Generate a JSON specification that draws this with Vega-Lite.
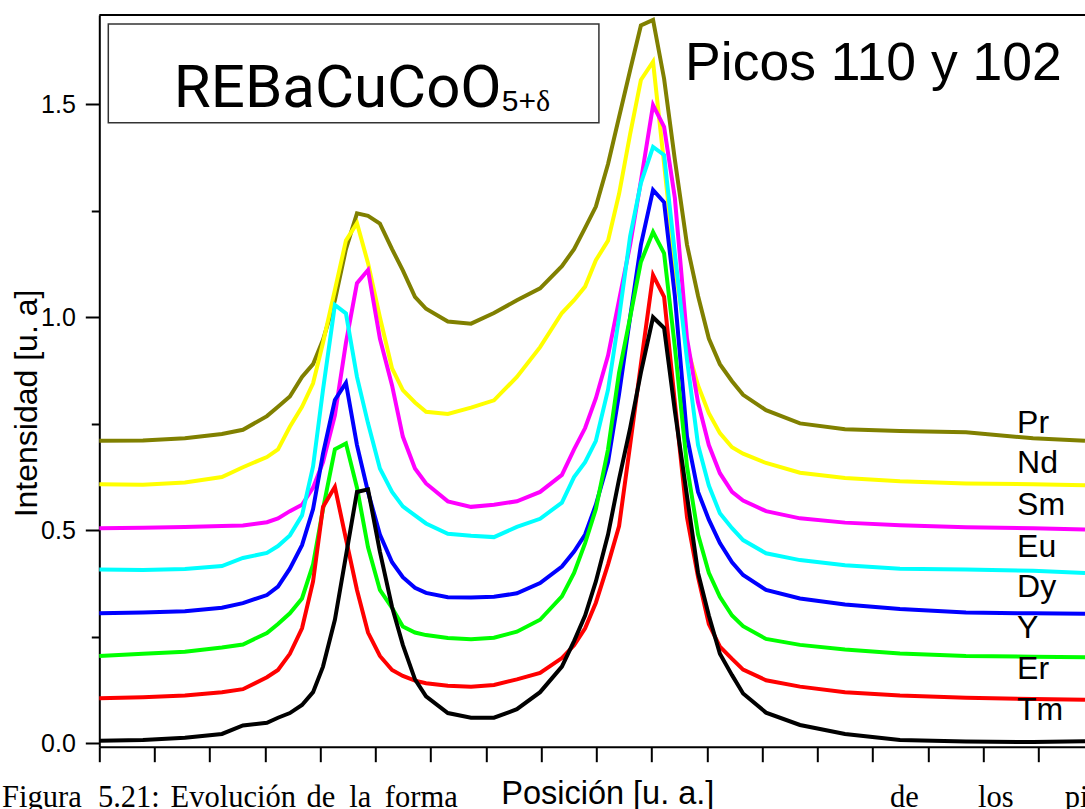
{
"$schema": "https://vega.github.io/schema/vega-lite/v6.json",
"width": 985.7,
"height": 731.7,
"autosize": {"type": "none"},
"padding": {"left": 99.3, "top": 15, "right": 0, "bottom": 62.3},
"background": "white",
"config": {
  "view": {"stroke": null},
  "axis": {"labelFont": "Liberation Sans", "titleFont": "Liberation Sans", "titleFontWeight": "normal", "labelColor": "black", "titleColor": "black", "domainColor": "black", "tickColor": "black", "grid": false},
  "text": {"font": "Liberation Sans", "color": "black"}
},
"datasets": {
  "curves": [
{"s":"Pr","x":0,"y":0.71},{"s":"Pr","x":1.58,"y":0.711},{"s":"Pr","x":3.10,"y":0.716},{"s":"Pr","x":4.44,"y":0.726},{"s":"Pr","x":5.20,"y":0.736},{"s":"Pr","x":6.07,"y":0.768},{"s":"Pr","x":6.47,"y":0.79},{"s":"Pr","x":6.90,"y":0.814},{"s":"Pr","x":7.34,"y":0.86},{"s":"Pr","x":7.74,"y":0.89},{"s":"Pr","x":8.10,"y":0.947},{"s":"Pr","x":8.53,"y":1.04},{"s":"Pr","x":8.93,"y":1.16},{"s":"Pr","x":9.33,"y":1.244},{"s":"Pr","x":9.73,"y":1.238},{"s":"Pr","x":10.16,"y":1.22},{"s":"Pr","x":10.60,"y":1.16},{"s":"Pr","x":10.99,"y":1.11},{"s":"Pr","x":11.43,"y":1.048},{"s":"Pr","x":11.83,"y":1.02},{"s":"Pr","x":12.62,"y":0.99},{"s":"Pr","x":13.46,"y":0.985},{"s":"Pr","x":14.29,"y":1.01},{"s":"Pr","x":15.12,"y":1.04},{"s":"Pr","x":15.96,"y":1.068},{"s":"Pr","x":16.75,"y":1.12},{"s":"Pr","x":17.19,"y":1.16},{"s":"Pr","x":17.59,"y":1.21},{"s":"Pr","x":17.98,"y":1.26},{"s":"Pr","x":18.42,"y":1.36},{"s":"Pr","x":18.82,"y":1.47},{"s":"Pr","x":19.22,"y":1.58},{"s":"Pr","x":19.61,"y":1.685},{"s":"Pr","x":20.05,"y":1.698},{"s":"Pr","x":20.45,"y":1.56},{"s":"Pr","x":20.84,"y":1.37},{"s":"Pr","x":21.28,"y":1.17},{"s":"Pr","x":21.68,"y":1.05},{"s":"Pr","x":22.07,"y":0.95},{"s":"Pr","x":22.47,"y":0.89},{"s":"Pr","x":22.91,"y":0.85},{"s":"Pr","x":23.31,"y":0.818},{"s":"Pr","x":24.14,"y":0.782},{"s":"Pr","x":25.37,"y":0.751},{"s":"Pr","x":27.00,"y":0.737},{"s":"Pr","x":28.99,"y":0.733},{"s":"Pr","x":31.38,"y":0.73},{"s":"Pr","x":33.81,"y":0.716},{"s":"Pr","x":35.69,"y":0.71},
{"s":"Nd","x":0,"y":0.608},{"s":"Nd","x":1.58,"y":0.607},{"s":"Nd","x":3.10,"y":0.612},{"s":"Nd","x":4.44,"y":0.625},{"s":"Nd","x":5.20,"y":0.648},{"s":"Nd","x":6.07,"y":0.672},{"s":"Nd","x":6.47,"y":0.69},{"s":"Nd","x":6.90,"y":0.743},{"s":"Nd","x":7.34,"y":0.79},{"s":"Nd","x":7.74,"y":0.845},{"s":"Nd","x":8.10,"y":0.94},{"s":"Nd","x":8.53,"y":1.064},{"s":"Nd","x":8.93,"y":1.18},{"s":"Nd","x":9.33,"y":1.221},{"s":"Nd","x":9.73,"y":1.127},{"s":"Nd","x":10.16,"y":1.0},{"s":"Nd","x":10.60,"y":0.88},{"s":"Nd","x":10.99,"y":0.829},{"s":"Nd","x":11.43,"y":0.80},{"s":"Nd","x":11.83,"y":0.778},{"s":"Nd","x":12.62,"y":0.773},{"s":"Nd","x":13.46,"y":0.788},{"s":"Nd","x":14.29,"y":0.805},{"s":"Nd","x":15.12,"y":0.86},{"s":"Nd","x":15.96,"y":0.93},{"s":"Nd","x":16.75,"y":1.01},{"s":"Nd","x":17.19,"y":1.04},{"s":"Nd","x":17.59,"y":1.072},{"s":"Nd","x":17.98,"y":1.134},{"s":"Nd","x":18.42,"y":1.18},{"s":"Nd","x":18.82,"y":1.29},{"s":"Nd","x":19.22,"y":1.43},{"s":"Nd","x":19.61,"y":1.557},{"s":"Nd","x":20.05,"y":1.60},{"s":"Nd","x":20.45,"y":1.36},{"s":"Nd","x":20.84,"y":1.12},{"s":"Nd","x":21.28,"y":0.93},{"s":"Nd","x":21.68,"y":0.84},{"s":"Nd","x":22.07,"y":0.775},{"s":"Nd","x":22.47,"y":0.728},{"s":"Nd","x":22.91,"y":0.695},{"s":"Nd","x":23.31,"y":0.68},{"s":"Nd","x":24.14,"y":0.658},{"s":"Nd","x":25.37,"y":0.635},{"s":"Nd","x":27.00,"y":0.623},{"s":"Nd","x":28.99,"y":0.615},{"s":"Nd","x":31.38,"y":0.61},{"s":"Nd","x":33.81,"y":0.608},{"s":"Nd","x":35.69,"y":0.606},
{"s":"Sm","x":0,"y":0.505},{"s":"Sm","x":1.58,"y":0.506},{"s":"Sm","x":3.10,"y":0.508},{"s":"Sm","x":4.44,"y":0.51},{"s":"Sm","x":5.20,"y":0.511},{"s":"Sm","x":6.07,"y":0.519},{"s":"Sm","x":6.47,"y":0.528},{"s":"Sm","x":6.90,"y":0.545},{"s":"Sm","x":7.34,"y":0.56},{"s":"Sm","x":7.74,"y":0.60},{"s":"Sm","x":8.10,"y":0.66},{"s":"Sm","x":8.53,"y":0.77},{"s":"Sm","x":8.93,"y":0.94},{"s":"Sm","x":9.33,"y":1.08},{"s":"Sm","x":9.73,"y":1.111},{"s":"Sm","x":10.16,"y":0.95},{"s":"Sm","x":10.60,"y":0.84},{"s":"Sm","x":10.99,"y":0.72},{"s":"Sm","x":11.43,"y":0.645},{"s":"Sm","x":11.83,"y":0.61},{"s":"Sm","x":12.62,"y":0.568},{"s":"Sm","x":13.46,"y":0.555},{"s":"Sm","x":14.29,"y":0.56},{"s":"Sm","x":15.12,"y":0.568},{"s":"Sm","x":15.96,"y":0.59},{"s":"Sm","x":16.75,"y":0.63},{"s":"Sm","x":17.19,"y":0.69},{"s":"Sm","x":17.59,"y":0.74},{"s":"Sm","x":17.98,"y":0.81},{"s":"Sm","x":18.42,"y":0.91},{"s":"Sm","x":18.82,"y":1.04},{"s":"Sm","x":19.22,"y":1.17},{"s":"Sm","x":19.61,"y":1.32},{"s":"Sm","x":20.05,"y":1.498},{"s":"Sm","x":20.45,"y":1.447},{"s":"Sm","x":20.84,"y":1.28},{"s":"Sm","x":21.28,"y":0.95},{"s":"Sm","x":21.68,"y":0.80},{"s":"Sm","x":22.07,"y":0.70},{"s":"Sm","x":22.47,"y":0.634},{"s":"Sm","x":22.91,"y":0.59},{"s":"Sm","x":23.31,"y":0.57},{"s":"Sm","x":24.14,"y":0.545},{"s":"Sm","x":25.37,"y":0.528},{"s":"Sm","x":27.00,"y":0.518},{"s":"Sm","x":28.99,"y":0.512},{"s":"Sm","x":31.38,"y":0.507},{"s":"Sm","x":33.81,"y":0.505},{"s":"Sm","x":35.69,"y":0.502},
{"s":"Eu","x":0,"y":0.408},{"s":"Eu","x":1.58,"y":0.407},{"s":"Eu","x":3.10,"y":0.409},{"s":"Eu","x":4.44,"y":0.416},{"s":"Eu","x":5.20,"y":0.435},{"s":"Eu","x":6.07,"y":0.447},{"s":"Eu","x":6.47,"y":0.463},{"s":"Eu","x":6.90,"y":0.488},{"s":"Eu","x":7.34,"y":0.535},{"s":"Eu","x":7.74,"y":0.65},{"s":"Eu","x":8.10,"y":0.83},{"s":"Eu","x":8.53,"y":1.029},{"s":"Eu","x":8.93,"y":1.009},{"s":"Eu","x":9.33,"y":0.86},{"s":"Eu","x":9.73,"y":0.751},{"s":"Eu","x":10.16,"y":0.645},{"s":"Eu","x":10.60,"y":0.59},{"s":"Eu","x":10.99,"y":0.556},{"s":"Eu","x":11.43,"y":0.535},{"s":"Eu","x":11.83,"y":0.516},{"s":"Eu","x":12.62,"y":0.492},{"s":"Eu","x":13.46,"y":0.487},{"s":"Eu","x":14.29,"y":0.484},{"s":"Eu","x":15.12,"y":0.508},{"s":"Eu","x":15.96,"y":0.527},{"s":"Eu","x":16.75,"y":0.565},{"s":"Eu","x":17.19,"y":0.625},{"s":"Eu","x":17.59,"y":0.66},{"s":"Eu","x":17.98,"y":0.71},{"s":"Eu","x":18.42,"y":0.83},{"s":"Eu","x":18.82,"y":1.0},{"s":"Eu","x":19.22,"y":1.19},{"s":"Eu","x":19.61,"y":1.315},{"s":"Eu","x":20.05,"y":1.4},{"s":"Eu","x":20.45,"y":1.381},{"s":"Eu","x":20.84,"y":1.15},{"s":"Eu","x":21.28,"y":0.9},{"s":"Eu","x":21.68,"y":0.70},{"s":"Eu","x":22.07,"y":0.605},{"s":"Eu","x":22.47,"y":0.54},{"s":"Eu","x":22.91,"y":0.505},{"s":"Eu","x":23.31,"y":0.477},{"s":"Eu","x":24.14,"y":0.446},{"s":"Eu","x":25.37,"y":0.43},{"s":"Eu","x":27.00,"y":0.418},{"s":"Eu","x":28.99,"y":0.41},{"s":"Eu","x":31.38,"y":0.408},{"s":"Eu","x":33.81,"y":0.405},{"s":"Eu","x":35.69,"y":0.40},
{"s":"Dy","x":0,"y":0.305},{"s":"Dy","x":1.58,"y":0.307},{"s":"Dy","x":3.10,"y":0.31},{"s":"Dy","x":4.44,"y":0.318},{"s":"Dy","x":5.20,"y":0.329},{"s":"Dy","x":6.07,"y":0.348},{"s":"Dy","x":6.47,"y":0.368},{"s":"Dy","x":6.90,"y":0.41},{"s":"Dy","x":7.34,"y":0.465},{"s":"Dy","x":7.74,"y":0.55},{"s":"Dy","x":8.10,"y":0.68},{"s":"Dy","x":8.53,"y":0.806},{"s":"Dy","x":8.93,"y":0.846},{"s":"Dy","x":9.33,"y":0.70},{"s":"Dy","x":9.73,"y":0.59},{"s":"Dy","x":10.16,"y":0.49},{"s":"Dy","x":10.60,"y":0.425},{"s":"Dy","x":10.99,"y":0.39},{"s":"Dy","x":11.43,"y":0.365},{"s":"Dy","x":11.83,"y":0.353},{"s":"Dy","x":12.62,"y":0.343},{"s":"Dy","x":13.46,"y":0.342},{"s":"Dy","x":14.29,"y":0.344},{"s":"Dy","x":15.12,"y":0.352},{"s":"Dy","x":15.96,"y":0.376},{"s":"Dy","x":16.75,"y":0.415},{"s":"Dy","x":17.19,"y":0.45},{"s":"Dy","x":17.59,"y":0.49},{"s":"Dy","x":17.98,"y":0.56},{"s":"Dy","x":18.42,"y":0.66},{"s":"Dy","x":18.82,"y":0.82},{"s":"Dy","x":19.22,"y":1.0},{"s":"Dy","x":19.61,"y":1.17},{"s":"Dy","x":20.05,"y":1.299},{"s":"Dy","x":20.45,"y":1.27},{"s":"Dy","x":20.84,"y":1.05},{"s":"Dy","x":21.28,"y":0.72},{"s":"Dy","x":21.68,"y":0.59},{"s":"Dy","x":22.07,"y":0.525},{"s":"Dy","x":22.47,"y":0.47},{"s":"Dy","x":22.91,"y":0.425},{"s":"Dy","x":23.31,"y":0.395},{"s":"Dy","x":24.14,"y":0.36},{"s":"Dy","x":25.37,"y":0.34},{"s":"Dy","x":27.00,"y":0.326},{"s":"Dy","x":28.99,"y":0.315},{"s":"Dy","x":31.38,"y":0.307},{"s":"Dy","x":33.81,"y":0.305},{"s":"Dy","x":35.69,"y":0.304},
{"s":"Y","x":0,"y":0.205},{"s":"Y","x":1.58,"y":0.21},{"s":"Y","x":3.10,"y":0.215},{"s":"Y","x":4.44,"y":0.225},{"s":"Y","x":5.20,"y":0.232},{"s":"Y","x":6.07,"y":0.259},{"s":"Y","x":6.47,"y":0.28},{"s":"Y","x":6.90,"y":0.305},{"s":"Y","x":7.34,"y":0.34},{"s":"Y","x":7.74,"y":0.42},{"s":"Y","x":8.10,"y":0.55},{"s":"Y","x":8.53,"y":0.69},{"s":"Y","x":8.93,"y":0.704},{"s":"Y","x":9.33,"y":0.60},{"s":"Y","x":9.73,"y":0.46},{"s":"Y","x":10.16,"y":0.36},{"s":"Y","x":10.60,"y":0.318},{"s":"Y","x":10.99,"y":0.274},{"s":"Y","x":11.43,"y":0.26},{"s":"Y","x":11.83,"y":0.254},{"s":"Y","x":12.62,"y":0.247},{"s":"Y","x":13.46,"y":0.244},{"s":"Y","x":14.29,"y":0.248},{"s":"Y","x":15.12,"y":0.262},{"s":"Y","x":15.96,"y":0.29},{"s":"Y","x":16.75,"y":0.345},{"s":"Y","x":17.19,"y":0.40},{"s":"Y","x":17.59,"y":0.47},{"s":"Y","x":17.98,"y":0.55},{"s":"Y","x":18.42,"y":0.69},{"s":"Y","x":18.82,"y":0.87},{"s":"Y","x":19.22,"y":1.0},{"s":"Y","x":19.61,"y":1.13},{"s":"Y","x":20.05,"y":1.2},{"s":"Y","x":20.45,"y":1.15},{"s":"Y","x":20.84,"y":0.93},{"s":"Y","x":21.28,"y":0.65},{"s":"Y","x":21.68,"y":0.49},{"s":"Y","x":22.07,"y":0.40},{"s":"Y","x":22.47,"y":0.344},{"s":"Y","x":22.91,"y":0.30},{"s":"Y","x":23.31,"y":0.275},{"s":"Y","x":24.14,"y":0.245},{"s":"Y","x":25.37,"y":0.231},{"s":"Y","x":27.00,"y":0.22},{"s":"Y","x":28.99,"y":0.211},{"s":"Y","x":31.38,"y":0.205},{"s":"Y","x":33.81,"y":0.203},{"s":"Y","x":35.69,"y":0.202},
{"s":"Er","x":0,"y":0.106},{"s":"Er","x":1.58,"y":0.108},{"s":"Er","x":3.10,"y":0.112},{"s":"Er","x":4.44,"y":0.12},{"s":"Er","x":5.20,"y":0.127},{"s":"Er","x":6.07,"y":0.155},{"s":"Er","x":6.47,"y":0.172},{"s":"Er","x":6.90,"y":0.21},{"s":"Er","x":7.34,"y":0.27},{"s":"Er","x":7.74,"y":0.38},{"s":"Er","x":8.10,"y":0.555},{"s":"Er","x":8.53,"y":0.602},{"s":"Er","x":8.93,"y":0.48},{"s":"Er","x":9.33,"y":0.36},{"s":"Er","x":9.73,"y":0.26},{"s":"Er","x":10.16,"y":0.205},{"s":"Er","x":10.60,"y":0.172},{"s":"Er","x":10.99,"y":0.158},{"s":"Er","x":11.43,"y":0.147},{"s":"Er","x":11.83,"y":0.141},{"s":"Er","x":12.62,"y":0.135},{"s":"Er","x":13.46,"y":0.133},{"s":"Er","x":14.29,"y":0.137},{"s":"Er","x":15.12,"y":0.15},{"s":"Er","x":15.96,"y":0.165},{"s":"Er","x":16.75,"y":0.20},{"s":"Er","x":17.19,"y":0.23},{"s":"Er","x":17.59,"y":0.27},{"s":"Er","x":17.98,"y":0.33},{"s":"Er","x":18.42,"y":0.42},{"s":"Er","x":18.82,"y":0.51},{"s":"Er","x":19.22,"y":0.70},{"s":"Er","x":19.61,"y":0.89},{"s":"Er","x":20.05,"y":1.099},{"s":"Er","x":20.45,"y":1.048},{"s":"Er","x":20.84,"y":0.80},{"s":"Er","x":21.28,"y":0.53},{"s":"Er","x":21.68,"y":0.39},{"s":"Er","x":22.07,"y":0.28},{"s":"Er","x":22.47,"y":0.227},{"s":"Er","x":22.91,"y":0.198},{"s":"Er","x":23.31,"y":0.173},{"s":"Er","x":24.14,"y":0.148},{"s":"Er","x":25.37,"y":0.133},{"s":"Er","x":27.00,"y":0.12},{"s":"Er","x":28.99,"y":0.112},{"s":"Er","x":31.38,"y":0.107},{"s":"Er","x":33.81,"y":0.104},{"s":"Er","x":35.69,"y":0.102},
{"s":"Tm","x":0,"y":0.006},{"s":"Tm","x":1.58,"y":0.008},{"s":"Tm","x":3.10,"y":0.013},{"s":"Tm","x":4.44,"y":0.022},{"s":"Tm","x":5.20,"y":0.042},{"s":"Tm","x":6.07,"y":0.048},{"s":"Tm","x":6.47,"y":0.06},{"s":"Tm","x":6.90,"y":0.071},{"s":"Tm","x":7.34,"y":0.09},{"s":"Tm","x":7.74,"y":0.12},{"s":"Tm","x":8.10,"y":0.18},{"s":"Tm","x":8.53,"y":0.29},{"s":"Tm","x":8.93,"y":0.44},{"s":"Tm","x":9.33,"y":0.59},{"s":"Tm","x":9.73,"y":0.596},{"s":"Tm","x":10.16,"y":0.45},{"s":"Tm","x":10.60,"y":0.32},{"s":"Tm","x":10.99,"y":0.231},{"s":"Tm","x":11.43,"y":0.15},{"s":"Tm","x":11.83,"y":0.11},{"s":"Tm","x":12.62,"y":0.071},{"s":"Tm","x":13.46,"y":0.06},{"s":"Tm","x":14.29,"y":0.06},{"s":"Tm","x":15.12,"y":0.08},{"s":"Tm","x":15.96,"y":0.12},{"s":"Tm","x":16.75,"y":0.18},{"s":"Tm","x":17.19,"y":0.24},{"s":"Tm","x":17.59,"y":0.30},{"s":"Tm","x":17.98,"y":0.38},{"s":"Tm","x":18.42,"y":0.49},{"s":"Tm","x":18.82,"y":0.62},{"s":"Tm","x":19.22,"y":0.74},{"s":"Tm","x":19.61,"y":0.87},{"s":"Tm","x":20.05,"y":1.0},{"s":"Tm","x":20.45,"y":0.975},{"s":"Tm","x":20.84,"y":0.78},{"s":"Tm","x":21.28,"y":0.58},{"s":"Tm","x":21.68,"y":0.40},{"s":"Tm","x":22.07,"y":0.30},{"s":"Tm","x":22.47,"y":0.21},{"s":"Tm","x":22.91,"y":0.16},{"s":"Tm","x":23.31,"y":0.117},{"s":"Tm","x":24.14,"y":0.072},{"s":"Tm","x":25.37,"y":0.043},{"s":"Tm","x":27.00,"y":0.022},{"s":"Tm","x":28.99,"y":0.008},{"s":"Tm","x":31.38,"y":0.004},{"s":"Tm","x":33.81,"y":0.003},{"s":"Tm","x":35.69,"y":0.005}
  ],
  "labels": [
{"t":"Pr","x":33.23,"y":0.728},{"t":"Nd","x":33.23,"y":0.634},{"t":"Sm","x":33.23,"y":0.536},{"t":"Eu","x":33.23,"y":0.438},{"t":"Dy","x":33.23,"y":0.344},{"t":"Y","x":33.23,"y":0.246},{"t":"Er","x":33.23,"y":0.152},{"t":"Tm","x":33.23,"y":0.055}
  ],
  "caption": [
{"t":"Figura","x":-3.52,"y":-0.1495},{"t":"5.21:","x":-0.05,"y":-0.1495},{"t":"Evolución","x":2.58,"y":-0.1495},{"t":"de","x":7.5,"y":-0.1495},{"t":"la","x":9.05,"y":-0.1495},{"t":"forma","x":10.34,"y":-0.1495},{"t":"de","x":28.63,"y":-0.1495},{"t":"los","x":31.82,"y":-0.1495},{"t":"pi","x":34.96,"y":-0.1495}
  ]
},
"layer": [
  {
    "data": {"name": "curves"},
    "mark": {"type": "line", "strokeWidth": 4},
    "encoding": {
      "x": {"field": "x", "type": "quantitative", "title": "Posición [u. a.]",
        "scale": {"domain": [0, 35.69], "nice": false, "zero": false},
        "axis": {"values": [0,1,2,3,4,5,6,7,8,9,10,11,12,13,14,15,16,17,18,19,20,21,22,23,24,25,26,27,28,29,30,31,32,33,34,35],
          "labels": false, "domainWidth": 2, "tickWidth": 2,
          "tickSize": {"condition": {"test": "datum.value % 2 === 0", "value": 15}, "value": 8},
          "titleFontSize": 32.5, "titleX": 508, "titleY": 57, "titleBaseline": "alphabetic", "titleAlign": "center", "titleAnchor": null}},
      "y": {"field": "y", "type": "quantitative", "title": "Intensidad [u. a]",
        "scale": {"domain": [-0.008, 1.7096], "nice": false, "zero": false},
        "axis": {"values": [0,0.25,0.5,0.75,1,1.25,1.5],
          "labelExpr": "datum.value % 0.5 === 0 ? format(datum.value, '.1f') : ''",
          "labelFontSize": 25, "labelPadding": 10, "domainWidth": 2, "tickWidth": 2,
          "tickSize": {"condition": {"test": "datum.value % 0.5 === 0", "value": 14}, "value": 8},
          "titleFontSize": 32, "titleX": -62.6, "titleY": 388, "titleBaseline": "alphabetic", "titleAlign": "center", "titleAngle": -90}},
      "color": {"field": "s", "type": "nominal", "legend": null,
        "scale": {"domain": ["Pr","Nd","Sm","Eu","Dy","Y","Er","Tm"], "range": ["#808000","#FFFF00","#FF00FF","#00FFFF","#0000FF","#00FF00","#FF0000","#000000"]}}
    }
  },
  {
    "data": {"name": "labels"},
    "mark": {"type": "text", "align": "left", "baseline": "alphabetic", "fontSize": 32},
    "encoding": {
      "x": {"field": "x", "type": "quantitative", "title": "Posición [u. a.]", "scale": {"domain": [0, 35.69], "nice": false, "zero": false}},
      "y": {"field": "y", "type": "quantitative", "title": "Intensidad [u. a]", "scale": {"domain": [-0.008, 1.7096], "nice": false, "zero": false}},
      "text": {"field": "t"}
    }
  },
  {
    "data": {"name": "caption"},
    "mark": {"type": "text", "align": "left", "baseline": "alphabetic", "fontSize": 30.5, "font": "Liberation Serif"},
    "encoding": {
      "x": {"field": "x", "type": "quantitative", "title": "Posición [u. a.]", "scale": {"domain": [0, 35.69], "nice": false, "zero": false}},
      "y": {"field": "y", "type": "quantitative", "title": "Intensidad [u. a]", "scale": {"domain": [-0.008, 1.7096], "nice": false, "zero": false}},
      "text": {"field": "t"}
    }
  },
  {
    "data": {"values": [{"x": 0.326, "x2": 18.09, "y": 1.6885, "y2": 1.4568}]},
    "mark": {"type": "rect", "fill": null, "fillOpacity": 0, "stroke": "#333333", "strokeWidth": 1.5},
    "encoding": {
      "x": {"field": "x", "type": "quantitative", "title": "Posición [u. a.]", "scale": {"domain": [0, 35.69], "nice": false, "zero": false}},
      "x2": {"field": "x2"},
      "y": {"field": "y", "type": "quantitative", "title": "Intensidad [u. a]", "scale": {"domain": [-0.008, 1.7096], "nice": false, "zero": false}},
      "y2": {"field": "y2"}
    }
  },
  {
    "data": {"values": [{"t": "REBaCuCoO", "x": 2.70, "y": 1.4944}]},
    "mark": {"type": "text", "align": "left", "baseline": "alphabetic", "fontSize": 60, "font": "Roboto"},
    "encoding": {
      "x": {"field": "x", "type": "quantitative", "title": "Posición [u. a.]", "scale": {"domain": [0, 35.69], "nice": false, "zero": false}},
      "y": {"field": "y", "type": "quantitative", "title": "Intensidad [u. a]", "scale": {"domain": [-0.008, 1.7096], "nice": false, "zero": false}},
      "text": {"field": "t"}
    }
  },
  {
    "data": {"values": [{"t": "5+", "x": 14.57, "y": 1.4853}]},
    "mark": {"type": "text", "align": "left", "baseline": "alphabetic", "fontSize": 30},
    "encoding": {
      "x": {"field": "x", "type": "quantitative", "title": "Posición [u. a.]", "scale": {"domain": [0, 35.69], "nice": false, "zero": false}},
      "y": {"field": "y", "type": "quantitative", "title": "Intensidad [u. a]", "scale": {"domain": [-0.008, 1.7096], "nice": false, "zero": false}},
      "text": {"field": "t"}
    }
  },
  {
    "data": {"values": [{"t": "δ", "x": 15.81, "y": 1.4853}]},
    "mark": {"type": "text", "align": "left", "baseline": "alphabetic", "fontSize": 30, "font": "Liberation Serif"},
    "encoding": {
      "x": {"field": "x", "type": "quantitative", "title": "Posición [u. a.]", "scale": {"domain": [0, 35.69], "nice": false, "zero": false}},
      "y": {"field": "y", "type": "quantitative", "title": "Intensidad [u. a]", "scale": {"domain": [-0.008, 1.7096], "nice": false, "zero": false}},
      "text": {"field": "t"}
    }
  },
  {
    "data": {"values": [{"t": "Picos 110 y 102", "x": 21.21, "y": 1.557}]},
    "mark": {"type": "text", "align": "left", "baseline": "alphabetic", "fontSize": 53.5},
    "encoding": {
      "x": {"field": "x", "type": "quantitative", "title": "Posición [u. a.]", "scale": {"domain": [0, 35.69], "nice": false, "zero": false}},
      "y": {"field": "y", "type": "quantitative", "title": "Intensidad [u. a]", "scale": {"domain": [-0.008, 1.7096], "nice": false, "zero": false}},
      "text": {"field": "t"}
    }
  },
  {
    "data": {"values": [{"y": 1.7096}]},
    "mark": {"type": "rule", "color": "black", "strokeWidth": 2},
    "encoding": {
      "y": {"field": "y", "type": "quantitative", "title": "Intensidad [u. a]", "scale": {"domain": [-0.008, 1.7096], "nice": false, "zero": false}}
    }
  }
]
}
